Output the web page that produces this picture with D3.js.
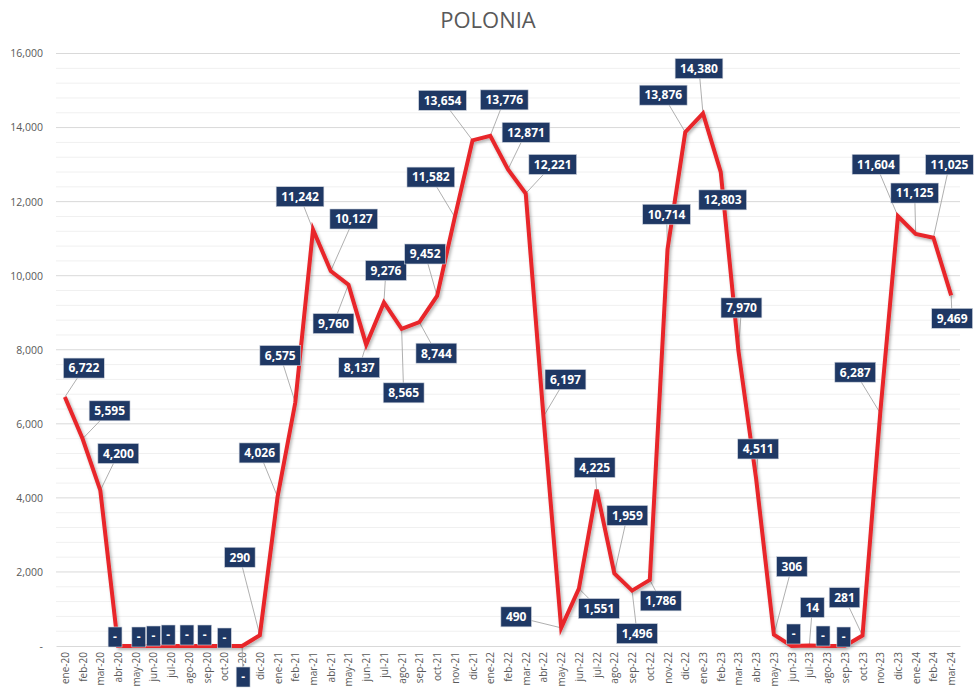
<!DOCTYPE html>
<html>
<head>
<meta charset="utf-8">
<script src="https://cdn.jsdelivr.net/npm/d3@7/dist/d3.min.js"></script>
<style>
  body { margin: 0; background: #fff; }
  svg { display: block; font-family: 'Open Sans', sans-serif; }
</style>
</head>
<body>
<div id="chart"></div>
<script>
// months, ene-20 .. mar-24
const months = [
    'ene-20','feb-20','mar-20','abr-20','may-20','jun-20','jul-20','ago-20','sep-20','oct-20','nov-20','dic-20',
    'ene-21','feb-21','mar-21','abr-21','may-21','jun-21','jul-21','ago-21','sep-21','oct-21','nov-21','dic-21',
    'ene-22','feb-22','mar-22','abr-22','may-22','jun-22','jul-22','ago-22','sep-22','oct-22','nov-22','dic-22',
    'ene-23','feb-23','mar-23','abr-23','may-23','jun-23','jul-23','ago-23','sep-23','oct-23','nov-23','dic-23',
    'ene-24','feb-24','mar-24'
];

const values = [
    6722, 5595, 4200, 0, 0, 0, 0, 0, 0, 0, 0, 290,
    4026, 6575, 11242, 10127, 9760, 8137, 9276, 8565, 8744, 9452, 11582, 13654,
    13776, 12871, 12221, 6197, 490, 1551, 4225, 1959, 1496, 1786, 10714, 13876,
    14380, 12803, 7970, 4511, 306, 0, 14, 0, 0, 281, 6287, 11604,
    11125, 11025, 9469
];

const yTicks = [ 0, 2000, 4000, 6000, 8000, 10000, 12000, 14000, 16000 ];

// label box offset from its point, in px (layout only)
const labelOffsets = [
    [19,-29],[27,-28],[18,-37],[-3,-9],[3,-9],[0,-10],[-3,-11],[-2,-11],[-2,-11],[0,-8],[1,31],[-20,-78],
    [-18,-44],[-15,-47],[-13,-33],[23,-52],[-15,39],[-7,23],[2,-32],[2,64],[17,31],[-12,-42],[-24,-40],[-30,-40],
    [14,-36],[18,-37],[27,-29],[22,-37],[-45,-11],[20,20],[-2,-22],[13,-58],[5,43],[11,21],[-1,-35],[-22,-37],
    [-4,-45],[2,28],[3,-43],[2,-30],[18,-68],[2,-12],[3,-38],[-4,-10],[-1,-9],[-18,-38],[-25,-41],[-22,-52],
    [-1,-41],[16,-73],[1,23]
];

const width = 977, height = 689;
const margin = { top: 53.5, right: 17, bottom: 43, left: 56 };
const innerWidth = width - margin.left - margin.right;
const innerHeight = height - margin.top - margin.bottom;

const svg = d3.select( '#chart' ).append( 'svg' )
    .attr( 'width', width )
    .attr( 'height', height );

const defs = svg.append( 'defs' );
const shadow = defs.append( 'filter' )
    .attr( 'id', 'shadow' )
    .attr( 'x', '-5%' ).attr( 'y', '-5%' )
    .attr( 'width', '110%' ).attr( 'height', '110%' );
shadow.append( 'feDropShadow' )
    .attr( 'dx', 1.5 ).attr( 'dy', 2 )
    .attr( 'stdDeviation', 1.6 )
    .attr( 'flood-color', '#000' )
    .attr( 'flood-opacity', 0.3 );

svg.append( 'text' )
    .attr( 'x', 488 )
    .attr( 'y', 28 )
    .attr( 'text-anchor', 'middle' )
    .style( 'font-size', '22px' )
    .style( 'fill', '#595959' )
    .text( 'POLONIA' );

const chart = svg.append( 'g' )
    .attr( 'transform', `translate( ${ margin.left }, ${ margin.top } )` );

const xScale = d3.scalePoint()
    .domain( months )
    .range( [ 0, innerWidth ] )
    .padding( 0.5 );

const yScale = d3.scaleLinear()
    .domain( [ 0, 16000 ] )
    .range( [ innerHeight, 0 ] );

// grid: minor every 400, major every 2000
const gridValues = d3.range( 400, 16001, 400 );
chart.append( 'g' )
    .selectAll( 'line' )
    .data( gridValues )
    .enter()
    .append( 'line' )
    .attr( 'x1', 0 )
    .attr( 'x2', innerWidth )
    .attr( 'y1', d => yScale( d ) )
    .attr( 'y2', d => yScale( d ) )
    .attr( 'stroke', d => d % 2000 === 0 ? '#D9D9D9' : '#F0F0F0' )
    .attr( 'stroke-width', 1 );

const fmt = v => v === 0 ? '-' : d3.format( ',' )( v );

const yAxis = d3.axisLeft( yScale )
    .tickValues( yTicks )
    .tickSize( 0 )
    .tickPadding( 13 )
    .tickFormat( fmt );

const yG = chart.append( 'g' ).call( yAxis );
yG.select( '.domain' ).remove();
yG.selectAll( 'text' )
    .style( 'font-size', '10.5px' )
    .style( 'fill', '#595959' )
    .style( 'font-family', "'Open Sans', sans-serif" );

const xAxis = d3.axisBottom( xScale ).tickSize( 0 ).tickPadding( 0 );
const xG = chart.append( 'g' )
    .attr( 'transform', `translate( 0, ${ innerHeight } )` )
    .call( xAxis );
xG.select( '.domain' ).attr( 'stroke', '#D9D9D9' );
xG.selectAll( 'text' )
    .attr( 'transform', 'rotate(-90)' )
    .attr( 'x', -6 )
    .attr( 'y', 0 )
    .attr( 'dy', '0.35em' )
    .attr( 'text-anchor', 'end' )
    .style( 'font-size', '10px' )
    .style( 'fill', '#595959' )
    .style( 'font-family', "'Open Sans', sans-serif" );

const points = months.map( ( m, i ) => ( {
    month: m,
    value: values[ i ],
    x: xScale( m ),
    y: yScale( values[ i ] ),
    lx: xScale( m ) + labelOffsets[ i ][ 0 ],
    ly: yScale( values[ i ] ) + labelOffsets[ i ][ 1 ]
} ) );

// leader lines
chart.append( 'g' )
    .selectAll( 'line' )
    .data( points.filter( p => Math.hypot( p.lx - p.x, p.ly - p.y ) > 16 ) )
    .enter()
    .append( 'line' )
    .attr( 'x1', d => d.x )
    .attr( 'y1', d => d.y )
    .attr( 'x2', d => d.lx )
    .attr( 'y2', d => d.ly )
    .attr( 'stroke', '#A6A6A6' )
    .attr( 'stroke-width', 0.9 );

const line = d3.line()
    .x( d => d.x )
    .y( d => d.y );

chart.append( 'path' )
    .datum( points )
    .attr( 'd', line )
    .attr( 'fill', 'none' )
    .attr( 'stroke', '#E8262B' )
    .attr( 'stroke-width', 4 )
    .attr( 'stroke-linejoin', 'miter' )
    .attr( 'filter', 'url(#shadow)' );

// data labels
const labels = chart.append( 'g' )
    .selectAll( '.label' )
    .data( points )
    .enter()
    .append( 'g' )
    .attr( 'class', 'label' )
    .attr( 'transform', d => `translate( ${ d.lx }, ${ d.ly } )` );

const rects = labels.append( 'rect' )
    .attr( 'fill', '#1F3864' )
    .attr( 'stroke', '#D0D5DE' )
    .attr( 'stroke-width', 0.6 );

const texts = labels.append( 'text' )
    .attr( 'text-anchor', 'middle' )
    .attr( 'dy', '0.36em' )
    .style( 'font-size', '12px' )
    .style( 'font-weight', 'bold' )
    .style( 'fill', '#fff' )
    .text( d => fmt( d.value ) );

texts.each( function ( d ) {
    const w = this.getComputedTextLength() + 10;
    d3.select( this.parentNode ).select( 'rect' )
        .attr( 'x', -w / 2 )
        .attr( 'y', -10 )
        .attr( 'width', w )
        .attr( 'height', 20 );
} );
</script>
</body>
</html>
